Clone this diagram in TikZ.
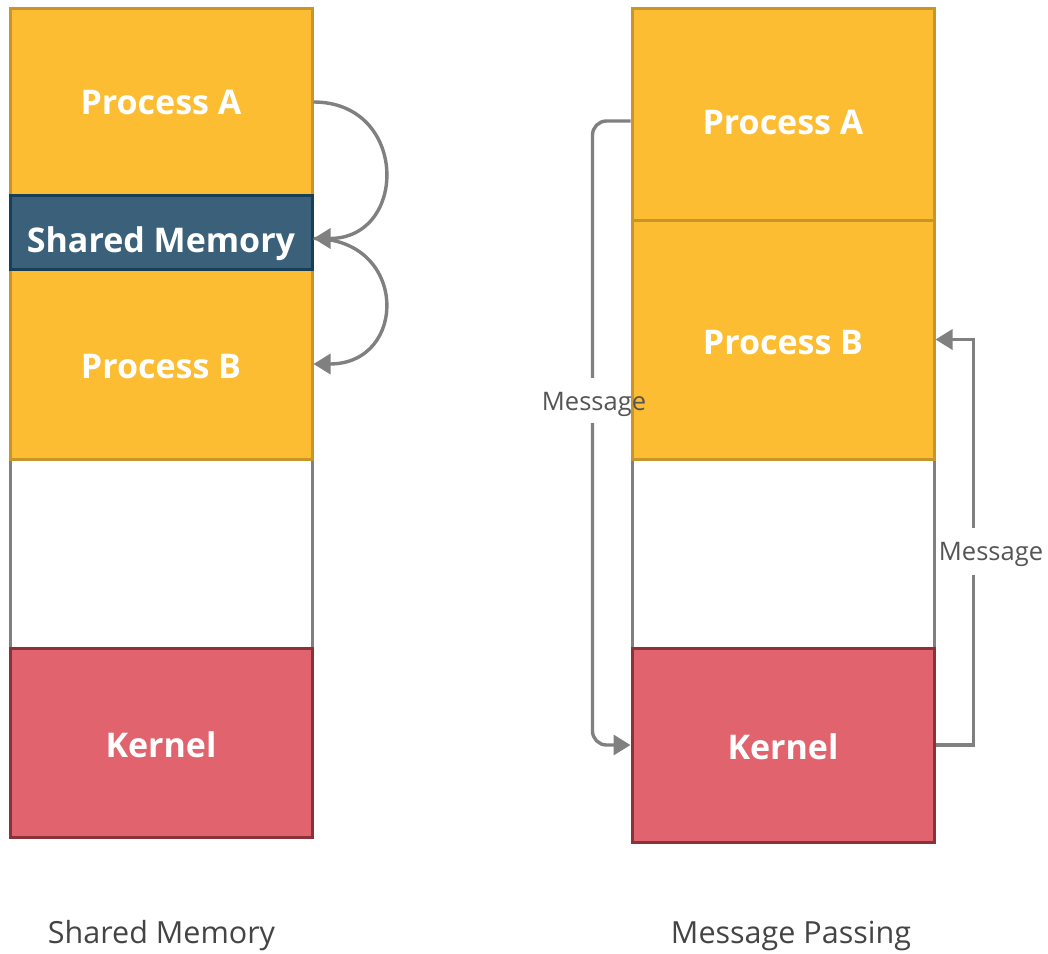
\documentclass[tikz,border=0pt]{standalone}
\usepackage{fontspec}
\setmainfont{Open Sans}
\usetikzlibrary{arrows.meta,calc}
\definecolor{yel}{HTML}{FCBD33}
\definecolor{yelb}{HTML}{C8952A}
\definecolor{smf}{HTML}{3A6179}
\definecolor{smb}{HTML}{183F5A}
\definecolor{krf}{HTML}{E0636D}
\definecolor{krb}{HTML}{8B3139}
\definecolor{lgray}{HTML}{808080}
\definecolor{tgray}{HTML}{444444}
\definecolor{mgray}{HTML}{555555}
\tikzset{
  blk/.style={draw, line width=3pt, minimum width=302pt, inner sep=0pt, text height=29pt, text depth=0pt, font=\bfseries\fontsize{34}{40}\selectfont, text=white},
  procbox/.style={blk, fill=yel, draw=yelb},
  shmbox/.style={blk, fill=smf, draw=smb},
  kerbox/.style={blk, fill=krf, draw=krb},
  emptybox/.style={blk, fill=white, draw=lgray},
  arr/.style={draw=lgray, line width=3.4pt, -{Triangle[length=17pt,width=20pt]}},
  msg/.style={text=mgray, font=\fontsize{25.5}{30}\selectfont, inner sep=0pt, text height=18.2pt, text depth=0pt},
  caption/.style={text=tgray, font=\fontsize{30.5}{34}\selectfont, inner sep=0pt, text height=21.8pt, text depth=0pt}
}
\begin{document}
\begin{tikzpicture}[x=1pt,y=-1pt]
\useasboundingbox (0,0) rectangle (1048,953);
% left column
\node[emptybox, minimum height=189pt] (w1) at (161,553.5) {};
\node[procbox, minimum height=188pt, text height=25pt] (pa1) at (161,102) {Process A};
\node[procbox, minimum height=190pt] (pb1) at (161,364) {Process B};
\node[shmbox, minimum height=74pt, text height=39.5pt] (sm1) at (161,232.5) {Shared Memory};
\node[kerbox, minimum height=189pt] (k1) at (161,742.5) {Kernel};
% right column
\node[emptybox, minimum height=189pt] (w2) at (783,553.5) {};
\node[procbox, minimum height=212pt, text height=40pt] (pa2) at (783,114) {Process A};
\node[procbox, minimum height=239pt] (pb2) at (783,339.5) {Process B};
\node[kerbox, minimum height=194pt] (k2) at (783,745) {Kernel};
% shared memory arrows
\draw[arr] (pa1.east) .. controls +(95,0) and +(95,0) .. ([yshift=-6pt]sm1.east);
\draw[arr] ([yshift=-6pt]sm1.east) .. controls +(95,0) and +(95,0) .. (pb1.east);
% message passing arrows
\draw[arr, rounded corners=14pt] ([yshift=-7pt]pa2.west) -- ++(-38,0) |- (k2.west);
\draw[arr] (k2.east) -- ++(38,0) |- (pb2.east);
\fill[white] (587,378) rectangle (601,423);
\fill[white] (965,528) rectangle (979,575);
\node[msg] (m1) at (594,401.7) {Message};
\node[msg] (m2) at (991,551.7) {Message};
% captions
\node[caption] (c1) at (161.5,933) {Shared Memory};
\node[caption] (c2) at (791,933) {Message Passing};
\end{tikzpicture}
\end{document}
